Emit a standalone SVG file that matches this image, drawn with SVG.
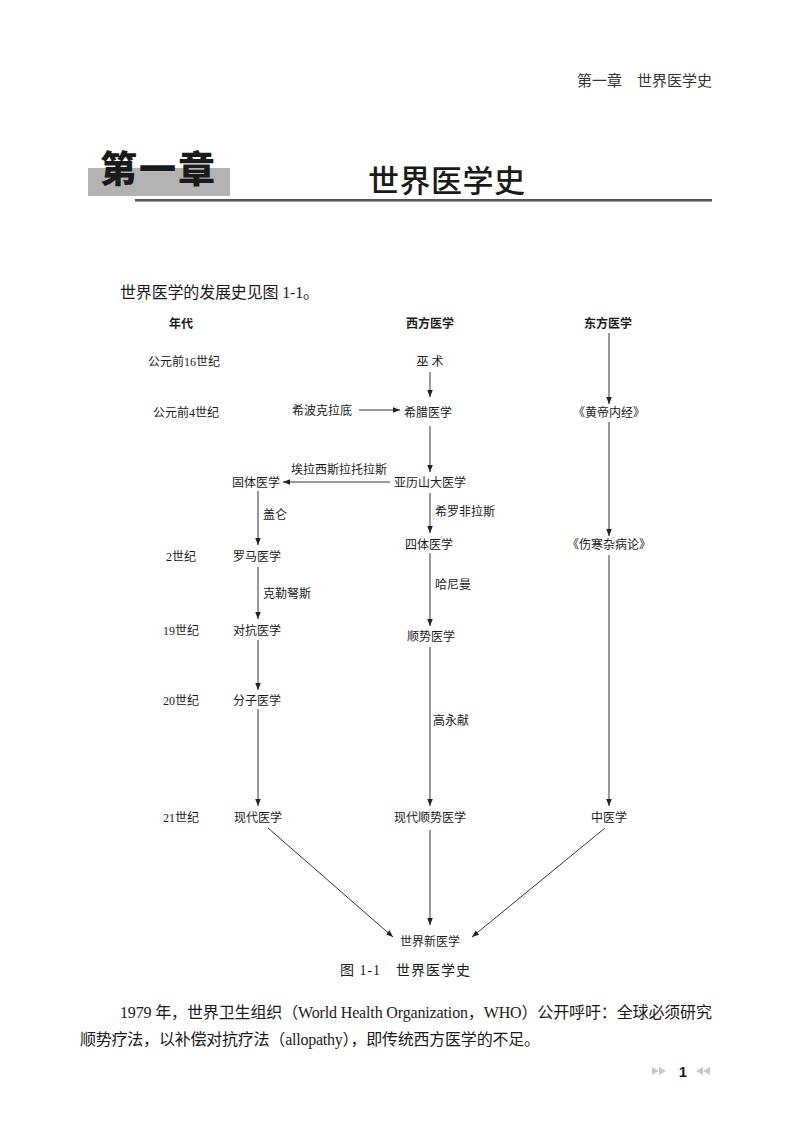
<svg xmlns="http://www.w3.org/2000/svg" width="800" height="1146" viewBox="0 0 800 1146">
<style>
text{font-family:"Liberation Serif","Noto Sans CJK SC",serif;fill:#1a1a1a}
.hd{font-size:15px;fill:#333}
.lb{font-size:12px;text-anchor:middle}
.lbl{font-size:12px}
.b{font-weight:bold}
.body{font-size:16px}
.ln{stroke:#333;stroke-width:1;fill:none}
</style>
<defs>
<marker id="ah" viewBox="0 0 10 10" refX="10" refY="5" markerWidth="7" markerHeight="7" markerUnits="userSpaceOnUse" orient="auto">
<path d="M0,1 L10,5 L0,9 Z" fill="#222"/>
</marker>
</defs>
<rect width="800" height="1146" fill="#fff"/>
<g id="header">
<text class="hd" x="577" y="86" textLength="135" style="font-family:'Noto Sans CJK SC',sans-serif">第一章　世界医学史</text>
</g>
<g id="title">
<rect x="88" y="168" width="142" height="28" fill="#b3b3b3"/>
<text x="100" y="183" font-size="37" style="font-family:'Noto Sans CJK SC',sans-serif;font-weight:900" textLength="115">第一章</text>
<text x="368" y="192" font-size="31" style="font-weight:500" textLength="157">世界医学史</text>
<rect x="135" y="199" width="577" height="2.5" fill="#555"/>
</g>
<text class="body" x="120" y="298" textLength="199">世界医学的发展史见图 1-1。</text>
<g id="connectors">
<line class="ln" x1="430" y1="372" x2="430" y2="397" marker-end="url(#ah)"/>
<line class="ln" x1="359" y1="410" x2="400" y2="410" marker-end="url(#ah)"/>
<line class="ln" x1="430" y1="426" x2="430" y2="472" marker-end="url(#ah)"/>
<line class="ln" x1="609" y1="333" x2="609" y2="404" marker-end="url(#ah)"/>
<line class="ln" x1="390" y1="482" x2="283" y2="482" marker-end="url(#ah)"/>
<line class="ln" x1="258" y1="491" x2="258" y2="545" marker-end="url(#ah)"/>
<line class="ln" x1="430" y1="493" x2="430" y2="533" marker-end="url(#ah)"/>
<line class="ln" x1="609" y1="422" x2="609" y2="536" marker-end="url(#ah)"/>
<line class="ln" x1="258" y1="567" x2="258" y2="619" marker-end="url(#ah)"/>
<line class="ln" x1="430" y1="553" x2="430" y2="626" marker-end="url(#ah)"/>
<line class="ln" x1="258" y1="640" x2="258" y2="690" marker-end="url(#ah)"/>
<line class="ln" x1="258" y1="709" x2="258" y2="806" marker-end="url(#ah)"/>
<line class="ln" x1="430" y1="647" x2="430" y2="806" marker-end="url(#ah)"/>
<line class="ln" x1="609" y1="555" x2="609" y2="806" marker-end="url(#ah)"/>
<line class="ln" x1="268" y1="828" x2="393" y2="937" marker-end="url(#ah)"/>
<line class="ln" x1="430" y1="830" x2="430" y2="925" marker-end="url(#ah)"/>
<line class="ln" x1="605" y1="828" x2="472" y2="937" marker-end="url(#ah)"/>
</g>
<g id="col-headers">
<text class="lb b" x="181" y="328">年代</text>
<text class="lb b" x="430" y="328">西方医学</text>
<text class="lb b" x="608" y="328">东方医学</text>
</g>
<g id="eras">
<text class="lb" x="184" y="366">公元前16世纪</text>
<text class="lb" x="186" y="417">公元前4世纪</text>
<text class="lb" x="181" y="561">2世纪</text>
<text class="lb" x="181" y="635">19世纪</text>
<text class="lb" x="181" y="705">20世纪</text>
<text class="lb" x="181" y="822">21世纪</text>
</g>
<g id="n-wushu"><text class="lb" x="430" y="366">巫 术</text></g>
<g id="n-xibokeladi"><text class="lb" x="322" y="415">希波克拉底</text></g>
<g id="n-xila"><text class="lb" x="428" y="417">希腊医学</text></g>
<g id="n-huangdi"><text class="lb" x="609" y="417">《黄帝内经》</text></g>
<g id="n-ailaxisi"><text class="lb" x="339" y="474">埃拉西斯拉托拉斯</text></g>
<g id="n-guti"><text class="lb" x="256" y="487">固体医学</text></g>
<g id="n-yalishanda"><text class="lb" x="430" y="487">亚历山大医学</text></g>
<g id="l-gailun"><text class="lbl" x="263" y="519">盖仑</text></g>
<g id="l-xiluofei"><text class="lbl" x="435" y="516">希罗非拉斯</text></g>
<g id="n-luoma"><text class="lb" x="257" y="561">罗马医学</text></g>
<g id="n-siti"><text class="lb" x="429" y="549">四体医学</text></g>
<g id="n-shanghan"><text class="lb" x="609" y="549">《伤寒杂病论》</text></g>
<g id="l-kelenusi"><text class="lbl" x="263" y="598">克勒弩斯</text></g>
<g id="l-haniman"><text class="lbl" x="435" y="589">哈尼曼</text></g>
<g id="n-duikang"><text class="lb" x="257" y="635">对抗医学</text></g>
<g id="n-shunshi"><text class="lb" x="431" y="641">顺势医学</text></g>
<g id="n-fenzi"><text class="lb" x="257" y="705">分子医学</text></g>
<g id="l-gaoyongxian"><text class="lbl" x="433" y="725">高永献</text></g>
<g id="n-xiandai"><text class="lb" x="258" y="822">现代医学</text></g>
<g id="n-xiandaishunshi"><text class="lb" x="430" y="822">现代顺势医学</text></g>
<g id="n-zhongyi"><text class="lb" x="609" y="822">中医学</text></g>
<g id="n-shijiexin"><text class="lb" x="430" y="946">世界新医学</text></g>
<text x="340" y="975" font-size="14" textLength="130">图 1-1　世界医学史</text>
<text class="body" x="120" y="1018" textLength="592" lengthAdjust="spacing">1979 年，世界卫生组织（World Health Organization，WHO）公开呼吁：全球必须研究</text>
<text class="body" x="80" y="1045" textLength="460" lengthAdjust="spacing">顺势疗法，以补偿对抗疗法（allopathy），即传统西方医学的不足。</text>
<g id="pagenum">
<path d="M652,1067 L659,1071 L652,1075 Z M659,1067 L666,1071 L659,1075 Z" fill="#c8c8c8"/>
<text x="683" y="1077" font-size="15" font-weight="bold" text-anchor="middle" style="font-family:'Liberation Sans',sans-serif">1</text>
<path d="M703,1067 L696,1071 L703,1075 Z M710,1067 L703,1071 L710,1075 Z" fill="#c8c8c8"/>
</g>
</svg>
